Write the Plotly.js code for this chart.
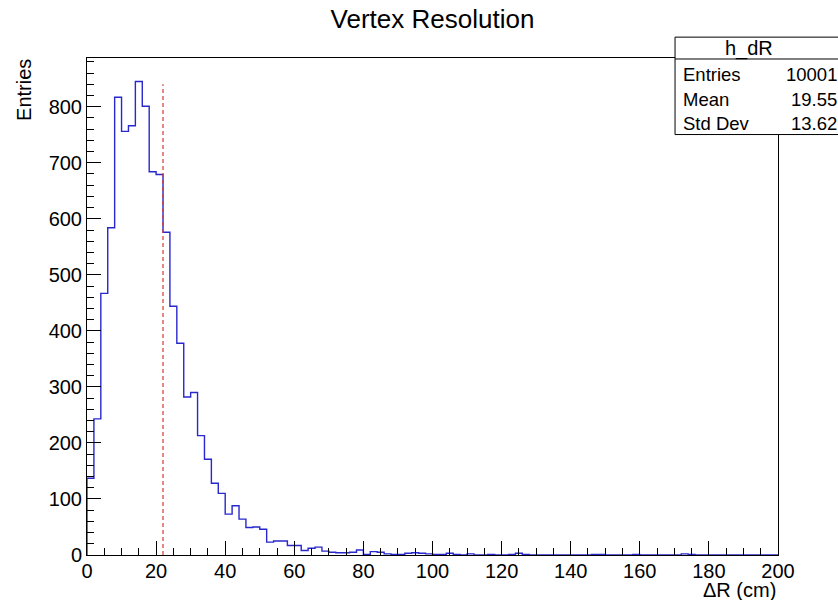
<!DOCTYPE html>
<html>
<head>
<meta charset="utf-8">
<script src="https://cdn.plot.ly/plotly-3.0.1.min.js"></script>
<style>
  html, body { margin: 0; padding: 0; background: #fff; }
  #chart { width: 838px; height: 600px; }
</style>
</head>
<body>
<div id="chart"></div>
<script>
// ---- data ----
const histName = "h_dR";
const chartTitle = "Vertex Resolution";
const xTitle = "\u0394R (cm)";
const yTitle = "Entries";
const binLow = 0;
const binWidth = 2;
const counts = [
  137, 243, 467, 584, 817, 756, 766, 845, 801, 684,
  679, 576, 444, 378, 282, 290, 213, 171, 128, 110,
  73, 88, 64, 49, 50, 46, 23, 25, 25, 17,
  17, 8, 12, 14, 7, 5, 4, 4, 5, 9,
  1, 6, 5, 2, 1, 1, 3, 4, 3, 2,
  1, 1, 3, 1, 0, 2, 0, 0, 1, 0,
  0, 1, 3, 1, 0, 0, 0, 0, 0, 0,
  0, 0, 0, 1, 1, 0, 0, 0, 0, 1,
  0, 0, 0, 0, 0, 0, 2, 1, 0, 0,
  0, 0, 0, 0, 0, 0, 0, 0, 0, 0
];
const statLabels = ["Entries", "Mean", "Std Dev"];
const statValues = ["10001", "19.55", "13.62"];
const cutValue = 22;      // red dashed marker position
const cutHeight = 840;    // marker top
const xRange = [0, 200];
const yRange = [0, 887];

// ---- build step outline from bins ----
const xs = [binLow];
const ys = [0];
for (let i = 0; i < counts.length; i++) {
  xs.push(binLow + i * binWidth);
  ys.push(counts[i]);
}
xs.push(binLow + counts.length * binWidth);
ys.push(counts[counts.length - 1]);
xs.push(binLow + counts.length * binWidth);
ys.push(0);

const FONT = "Liberation Sans, Arial, Helvetica, sans-serif";

const traces = [
  {
    x: xs, y: ys, type: "scatter", mode: "lines",
    line: { shape: "hv", color: "rgb(40,40,205)", width: 1.4 },
    hoverinfo: "skip", showlegend: false
  },
  {
    x: [cutValue, cutValue], y: [0, cutHeight], type: "scatter", mode: "lines",
    line: { color: "rgb(215,60,50)", width: 1.2, dash: "4px,3px" },
    hoverinfo: "skip", showlegend: false
  }
];

// stat box geometry (paper coords)
const boxL = 0.851, boxR = 1.10, boxT = 1.042, boxB = 0.846, boxSep = 0.998;
const rowYs = [0.966, 0.917, 0.869];

const annotations = [
  { text: histName, xref: "paper", yref: "paper", x: 0.958, y: (boxT + boxSep) / 2,
    xanchor: "center", yanchor: "middle", showarrow: false,
    font: { family: FONT, size: 20, color: "#000" } },
  { text: xTitle, xref: "paper", yref: "paper", x: 1.0, y: -0.044,
    xanchor: "right", yanchor: "top", showarrow: false,
    font: { family: FONT, size: 20, color: "#000" } },
  { text: yTitle, xref: "paper", yref: "paper", x: -0.092, y: 1.003,
    xanchor: "center", yanchor: "top", textangle: -90, showarrow: false,
    font: { family: FONT, size: 20, color: "#000" } }
];
statLabels.forEach((lab, i) => {
  annotations.push({ text: lab, xref: "paper", yref: "paper", x: boxL + 0.008, y: rowYs[i],
    xanchor: "left", yanchor: "middle", showarrow: false,
    font: { family: FONT, size: 18.5, color: "#000" } });
  annotations.push({ text: statValues[i], xref: "paper", yref: "paper", x: 1.088, y: rowYs[i],
    xanchor: "right", yanchor: "middle", showarrow: false,
    font: { family: FONT, size: 18.5, color: "#000" } });
});

const shapes = [
  { type: "rect", xref: "paper", yref: "paper", x0: boxL, x1: boxR, y0: boxB, y1: boxT,
    line: { color: "#000", width: 1 }, fillcolor: "#fff", layer: "above" },
  { type: "line", xref: "paper", yref: "paper", x0: boxL, x1: boxR, y0: boxSep, y1: boxSep,
    line: { color: "#000", width: 1 }, layer: "above" }
];

const layout = {
  width: 838, height: 600,
  margin: { l: 87, r: 60, t: 58, b: 45, pad: 0 },
  paper_bgcolor: "#fff", plot_bgcolor: "#fff",
  showlegend: false,
  title: { text: chartTitle, xref: "paper", x: 0.5, xanchor: "center",
    yref: "container", y: 0.968, yanchor: "middle",
    font: { family: FONT, size: 26, color: "#000" } },
  xaxis: {
    range: xRange, dtick: 20, tick0: 0, showgrid: false, zeroline: false,
    showline: true, mirror: true, linecolor: "#000", linewidth: 1,
    ticks: "inside", ticklen: 14, tickcolor: "#000", tickwidth: 1,
    ticklabelstandoff: -2,
    minor: { dtick: 5, ticks: "inside", ticklen: 7, tickcolor: "#000", tickwidth: 1, showgrid: false },
    tickfont: { family: FONT, size: 20, color: "#000" }
  },
  yaxis: {
    range: yRange, dtick: 100, tick0: 0, showgrid: false, zeroline: false,
    showline: true, mirror: true, linecolor: "#000", linewidth: 1,
    ticks: "inside", ticklen: 14, tickcolor: "#000", tickwidth: 1,
    minor: { dtick: 20, ticks: "inside", ticklen: 7, tickcolor: "#000", tickwidth: 1, showgrid: false },
    tickfont: { family: FONT, size: 20, color: "#000" }
  },
  annotations: annotations,
  shapes: shapes
};

Plotly.newPlot("chart", traces, layout, { staticPlot: true, displayModeBar: false });
</script>
</body>
</html>
